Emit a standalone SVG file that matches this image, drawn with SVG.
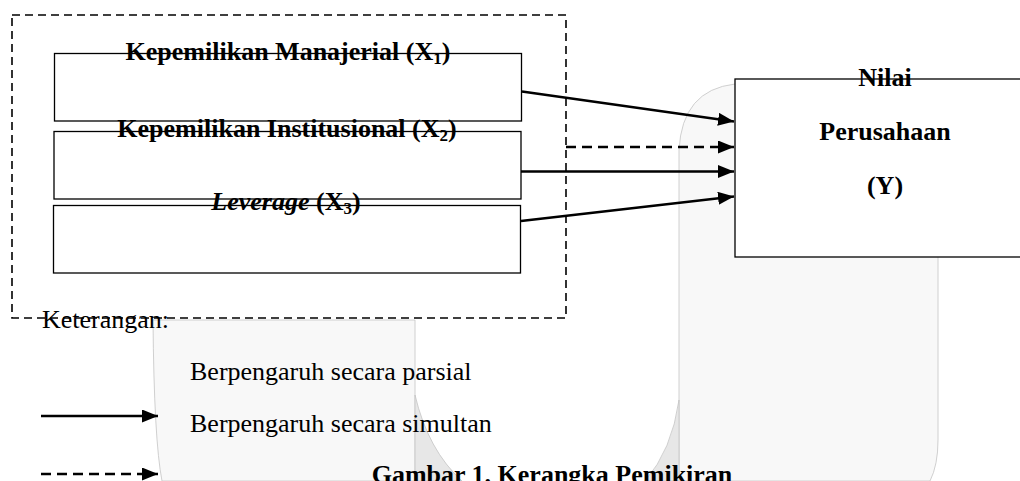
<svg xmlns="http://www.w3.org/2000/svg" width="1020" height="481" viewBox="0 0 1020 481">
<defs>
<style>
.t{font-family:"Liberation Serif","Times New Roman",serif;font-size:26px;fill:#000}
.b{font-weight:bold}
.box{fill:#fff;stroke:#000;stroke-width:1.3}
.bg{fill:#f8f8f8;stroke:#c4c4c4;stroke-width:0.8}
.bgd{fill:#e7e7e7;stroke:#c4c4c4;stroke-width:0.8}
.ln{fill:none;stroke:#000;stroke-width:2.3}
.dash{stroke-dasharray:10 6}
</style>
<marker id="ah" markerUnits="userSpaceOnUse" markerWidth="16" markerHeight="13" refX="16" refY="6.5" orient="auto">
<path d="M0,0 L16,6.5 L0,13 Z" fill="#000"/>
</marker>
</defs>
<rect width="1020" height="481" fill="#fff"/>
<g id="background">
<path class="bg" d="M679 481 L679 150 Q682 90 735 84 L938 84 L938 440 Q938 465 930 481 Z"/>
<path class="bgd" d="M679 400 Q672 450 645 481 L679 481 Z"/>
<path class="bg" d="M153 320 L415 320 L415 481 L162 481 Q154 440 153 320 Z"/>
<path class="bgd" d="M415 395 Q428 450 462 481 L415 481 Z"/>
</g>
<g id="group-x">
<rect x="12" y="15" width="554" height="303" fill="none" stroke="#000" stroke-width="1.6" stroke-dasharray="8 5"/>
</g>
<g id="node-x1">
<rect class="box" x="54.5" y="53.5" width="467" height="67.5"/>
<text class="t b" x="288" y="60" text-anchor="middle">Kepemilikan Manajerial (X<tspan font-size="17" dy="4">1</tspan><tspan dy="-4">)</tspan></text>
</g>
<g id="node-x2">
<rect class="box" x="54" y="131.5" width="467" height="67.5"/>
<text class="t b" x="287" y="137" text-anchor="middle">Kepemilikan Institusional (X<tspan font-size="17" dy="4">2</tspan><tspan dy="-4">)</tspan></text>
</g>
<g id="node-x3">
<rect class="box" x="53.5" y="205.5" width="467" height="67.5"/>
<text class="t b" x="286" y="210" text-anchor="middle"><tspan font-style="italic">Leverage</tspan> (X<tspan font-size="17" dy="4">3</tspan><tspan dy="-4">)</tspan></text>
</g>
<g id="node-y">
<rect class="box" x="735" y="79" width="300" height="178"/>
<text class="t b" x="885" y="86" text-anchor="middle">Nilai</text>
<text class="t b" x="885" y="140" text-anchor="middle">Perusahaan</text>
<text class="t b" x="885" y="194" text-anchor="middle">(Y)</text>
</g>
<g id="connectors">
<path class="ln" d="M522 91.5 L734 121.5" marker-end="url(#ah)"/>
<path class="ln dash" d="M566 147 L734 147" marker-end="url(#ah)"/>
<path class="ln" d="M521 171.5 L734 171.5" marker-end="url(#ah)"/>
<path class="ln" d="M521 221 L734 196.5" marker-end="url(#ah)"/>
</g>
<g id="legend">
<text class="t" x="42" y="328">Keterangan:</text>
<path class="ln" d="M41 416 L158 416" marker-end="url(#ah)"/>
<path class="ln dash" d="M41 474 L158 474" marker-end="url(#ah)"/>
<text class="t" x="190" y="380">Berpengaruh secara parsial</text>
<text class="t" x="190" y="432">Berpengaruh secara simultan</text>
<text class="t b" x="552" y="483" text-anchor="middle">Gambar 1. Kerangka Pemikiran</text>
</g>
</svg>
